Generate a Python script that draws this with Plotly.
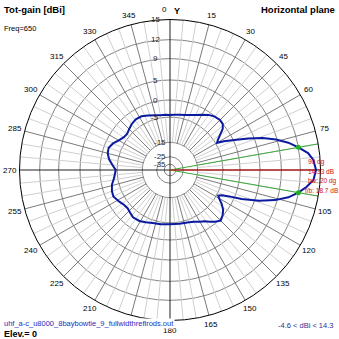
import numpy as np
import plotly.graph_objects as go

# ---------------- data ----------------
azimuth_deg = [0, 5, 10, 15, 20, 25, 30, 35, 40, 45, 49, 52, 55, 58, 60, 62, 65, 68, 71, 74,
               77, 80, 83, 86, 90, 94, 97, 100, 103, 106, 109, 112, 114, 116, 118, 120, 123,
               127, 131, 135, 139, 142, 146, 150, 155, 160, 170, 180, 190, 198, 205, 211, 218,
               223, 228, 233, 238, 245, 250, 256, 262, 270, 275, 280, 285, 290, 295, 300, 305,
               310, 315, 320, 326, 332, 338, 345, 350, 355, 360]
gain_dbi = [-4.4, -4.3, -4.1, -3.8, -3.4, -2.7, -1.8, -0.8, -0.1, 0.2, 0.0, -0.9, -2.6, -4.0,
            -4.6, -2.6, 0.2, 3.6, 6.5, 8.8, 10.6, 12.0, 13.3, 14.0, 14.33, 14.0, 13.1, 12.0,
            10.6, 8.6, 5.8, 1.8, -1.5, -3.6, -4.5, -3.9, -2.5, -1.0, -0.1, 0.4, -0.4, -1.3,
            -2.4, -3.0, -3.8, -4.2, -4.5, -4.6, -4.4, -4.2, -3.6, -3.1, -2.9, -3.4, -3.8, -3.6,
            -3.0, -2.2, -2.4, -3.0, -4.0, -4.6, -3.6, -2.4, -1.6, -1.4, -2.1, -3.2, -3.9, -4.1,
            -3.6, -3.0, -2.6, -2.7, -3.3, -3.9, -4.2, -4.3, -4.4]

max_dir_deg = 90
max_gain = 14.33
bw_deg = 20
fb_db = 18.7
min_gain_txt = -4.6
max_gain_txt = 14.3

ring_labels = ["15", "12", "9", "5", "0", "-5", "-15", "-25", "-35"]
ring_dbi = [15, 12, 9, 5, 0, -5, -15, -25, -35]
angle_ticks = list(range(0, 360, 15))

# ---------------- radial (log-like) scale of the plot ----------------
scale_db = [-80, -35, -25, -15, -5, 0, 5, 9, 12, 15]
scale_r = [0.0, 0.038, 0.088, 0.184, 0.352, 0.465, 0.598, 0.740, 0.866, 1.0]


def to_r(db):
    return np.interp(db, scale_db, scale_r)


ring_r = [float(to_r(v)) for v in ring_dbi]
pattern_r = to_r(np.array(gain_dbi))

# geometry of the polar area in pixels
W = H = 339
CX, CY, R = 170.0, 170.0, 150.5

fig = go.Figure()

# spokes (minor every 5 deg, major every 15 deg), starting at the -15 ring
r_in = float(to_r(-15))
minor_t, minor_r, major_t, major_r = [], [], [], []
for a in range(0, 360, 5):
    if a % 90 == 0:
        continue
    if a % 15 == 0:
        major_t += [a, a, None]
        major_r += [r_in, 1, None]
    else:
        minor_t += [a, a, None]
        minor_r += [r_in, 1, None]
fig.add_trace(go.Scatterpolar(r=minor_r, theta=minor_t, mode="lines",
                              line=dict(color="#cfcfcf", width=1), hoverinfo="skip"))
fig.add_trace(go.Scatterpolar(r=major_r, theta=major_t, mode="lines",
                              line=dict(color="#7a7a7a", width=1), hoverinfo="skip"))
# main axes
fig.add_trace(go.Scatterpolar(r=[1, 0, 1, None, 1, 0, 1], theta=[0, 0, 180, None, 90, 90, 270],
                              mode="lines", line=dict(color="#202020", width=1), hoverinfo="skip"))

# beamwidth lines and max direction
bw_lo = max_dir_deg - bw_deg / 2
bw_hi = max_dir_deg + bw_deg / 2
fig.add_trace(go.Scatterpolar(r=[0, 1, None, 0, 1], theta=[bw_lo, bw_lo, None, bw_hi, bw_hi],
                              mode="lines", line=dict(color="#3aa83a", width=1), hoverinfo="skip"))
fig.add_trace(go.Scatterpolar(r=[0, float(to_r(max_gain))], theta=[max_dir_deg, max_dir_deg],
                              mode="lines", line=dict(color="#e01010", width=1), hoverinfo="skip"))

# pattern
fig.add_trace(go.Scatterpolar(r=pattern_r, theta=azimuth_deg, mode="lines",
                              line=dict(color="#0a1aa0", width=2)))
# -3 dB points
g_lo = float(np.interp(bw_lo, azimuth_deg, gain_dbi))
g_hi = float(np.interp(bw_hi, azimuth_deg, gain_dbi))
fig.add_trace(go.Scatterpolar(r=[float(to_r(g_lo)), float(to_r(g_hi))], theta=[bw_lo, bw_hi],
                              mode="markers", marker=dict(color="#20b020", size=5)))

font = "Liberation Sans, Arial, sans-serif"
fig.update_layout(
    width=W, height=H,
    margin=dict(l=0, r=0, t=0, b=0),
    paper_bgcolor="white",
    showlegend=False,
    font=dict(family=font, size=8, color="black"),
    polar=dict(
        domain=dict(x=[(CX - R) / W, (CX + R) / W],
                    y=[(H - CY - R) / H, (H - CY + R) / H]),
        bgcolor="white",
        angularaxis=dict(rotation=90, direction="clockwise", tickmode="array",
                         tickvals=angle_ticks, showticklabels=False, showgrid=False,
                         showline=True, linecolor="black", linewidth=1, ticks=""),
        radialaxis=dict(range=[0, 1], tickmode="array", tickvals=ring_r,
                        showticklabels=False, showgrid=True, gridcolor="#858585",
                        gridwidth=1, showline=False, angle=90, ticks=""),
    ),
)


def add_text(text, x, y, anchor="left", size=8, color="black", yanchor="middle", bg=None):
    fig.add_annotation(text=text, x=x / W, y=1 - y / H, xref="paper", yref="paper",
                       xanchor=anchor, yanchor=yanchor, showarrow=False,
                       bgcolor=bg, borderpad=0,
                       font=dict(size=size, color=color, family=font))


# angular tick labels (90 is replaced by the red info block)
RL = 160
for a in angle_ticks:
    if a == max_dir_deg:
        continue
    x = CX + RL * np.sin(np.radians(a))
    y = CY - RL * np.cos(np.radians(a))
    if a == 0:
        x -= 6
    add_text(str(a), x, y, anchor="center", size=8)

# radial ring labels along the vertical axis
for lab, rr in zip(ring_labels, ring_r):
    y = CY - R * rr
    x = 155 if rr > 0.3 else 160
    add_text(lab, x, y, anchor="center", size=8, color="#2a2a2a")

red = "#d01010"
add_text("<b>Tot-gain [dBi]</b>", 3, 9, "left", 9.5)
add_text("Freq=650", 3, 28, "left", 7.5)
add_text("<b>Horizontal plane</b>", 336, 9, "right", 9.5)
add_text("<b>Y</b>", 173, 11, "left", 9)
add_text(f"{max_dir_deg} dg", 307, 162, "left", 6.5, red)
add_text(f"{max_gain:.2f} dB", 307, 171, "left", 6.5, red)
add_text(f"bw: {bw_deg} dg", 307, 181, "left", 6.5, red)
add_text(f"f/b: {fb_db} dB", 304, 190, "left", 6.5, red)
add_text("uhf_a-c_u8000_8baybowtie_9_fullwidthreflrods.out", 3, 323, "left", 7.5, "#2030c0",
         bg="white")
add_text("<b>Elev.= 0</b>", 3, 334, "left", 9)
add_text(f"{min_gain_txt} &lt; dBi &lt; {max_gain_txt}", 334, 325, "right", 7.5, "#303090")

fig.write_html("out.html", config={"displayModeBar": False},
               post_script="document.body.style.margin='0';")
